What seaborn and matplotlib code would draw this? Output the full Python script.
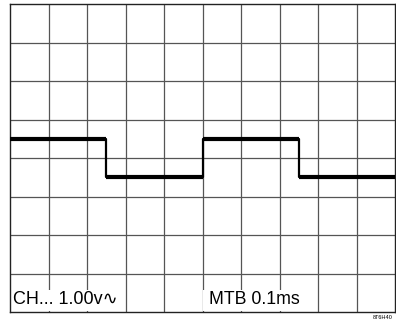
import matplotlib
matplotlib.use("Agg")
import matplotlib.pyplot as plt
import seaborn as sns
import pandas as pd
from matplotlib.patches import Rectangle

# Square wave on the scope screen: edge times (divisions) and levels (divisions)
edge_times = [0.0, 2.5, 5.0, 7.5, 10.0]
levels = [0.5, -0.5, 0.5, -0.5]
channel_label = "CH... 1.00v\u223f"
timebase_label = "MTB 0.1ms"
figure_code = "8T6H40"

n_cols, n_rows = 10, 8

sns.set_theme(style="white")
plt.rcParams["font.family"] = ["Liberation Sans", "DejaVu Sans"]

fig = plt.figure(figsize=(3.96, 3.21), dpi=100)
ax = fig.add_axes([10 / 396, 9 / 321, 385 / 396, 308 / 321])

# Graticule
for i in range(1, n_cols):
    ax.axvline(i, color="#555555", lw=0.9, zorder=1)
for j in range(1, n_rows):
    ax.axhline(j - n_rows / 2, color="#555555", lw=0.9, zorder=1)

# Horizontal segments of the trace (thick)
flat = pd.DataFrame({
    "t": [t for k in range(len(levels)) for t in (edge_times[k], edge_times[k + 1])],
    "v": [levels[k] for k in range(len(levels)) for _ in range(2)],
    "seg": [k for k in range(len(levels)) for _ in range(2)],
})
sns.lineplot(data=flat, x="t", y="v", units="seg", estimator=None,
             color="black", lw=3.0, ax=ax, zorder=4, solid_capstyle="butt")

# Vertical transitions of the trace (thinner)
trans = pd.DataFrame({
    "t": [edge_times[k] for k in range(1, len(levels)) for _ in range(2)],
    "v": [lv for k in range(1, len(levels)) for lv in (levels[k - 1], levels[k])],
    "seg": [k for k in range(1, len(levels)) for _ in range(2)],
})
sns.lineplot(data=trans, x="t", y="v", units="seg", estimator=None,
             color="black", lw=1.6, ax=ax, zorder=4)

# Readout boxes at the bottom of the screen
ax.add_patch(Rectangle((0.02, -3.98), 2.96, 0.55, facecolor="white",
                       edgecolor="none", zorder=2))
ax.add_patch(Rectangle((5.02, -3.98), 2.96, 0.55, facecolor="white",
                       edgecolor="none", zorder=2))
ax.text(0.09, -3.78, channel_label, fontsize=13, color="black",
        ha="left", va="baseline", zorder=5)
ax.text(5.18, -3.78, timebase_label, fontsize=12.8, color="black",
        ha="left", va="baseline", zorder=5)

ax.set_xlim(0, n_cols)
ax.set_ylim(-n_rows / 2, n_rows / 2)
ax.set_xticks([])
ax.set_yticks([])
ax.set_xlabel("")
ax.set_ylabel("")
for s in ax.spines.values():
    s.set_color("#222222")
    s.set_linewidth(1.0)
    s.set_visible(True)

fig.text(393 / 396, 1 / 321, figure_code, fontsize=4, ha="right", va="bottom",
         color="black")

fig.savefig("out.png", dpi=100, facecolor="white")
